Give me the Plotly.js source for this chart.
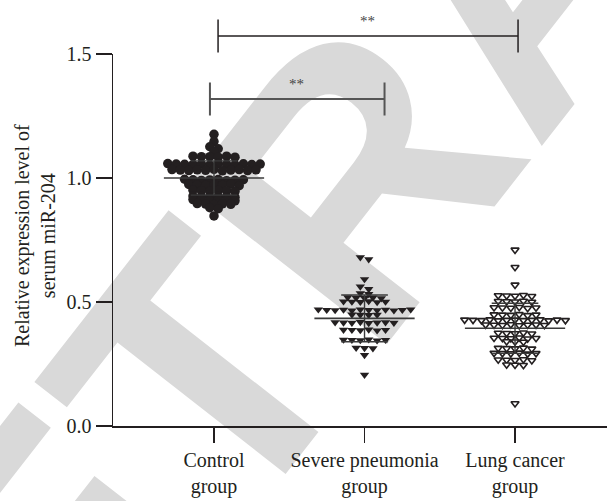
<!DOCTYPE html>
<html>
<head>
<meta charset="utf-8">
<script src="https://cdn.plot.ly/plotly-3.0.1.min.js"></script>
<style>
html,body{margin:0;padding:0;background:#ffffff;overflow:hidden;}
#wrap{position:relative;width:607px;height:501px;}
#wm{position:absolute;left:0;top:0;width:607px;height:501px;z-index:0;}
#chart{position:absolute;left:0;top:0;width:607px;height:501px;z-index:1;}
</style>
</head>
<body>
<div id="wrap">
<svg id="wm" width="607" height="501" xmlns="http://www.w3.org/2000/svg">
  <text x="-84" y="947" transform="rotate(-52 -84 947)" font-family="Liberation Sans, Arial, sans-serif" font-weight="bold" font-size="370" fill="#d9d9d9">RETRACTED</text>
</svg>
<div id="chart"></div>
</div>
<script>
// ---- data ----
const categories = ['Control<br>group', 'Severe pneumonia<br>group', 'Lung cancer<br>group'];

const controlVals = [
  1.176,
  1.147,
  1.126, 1.118,
  1.106,
  1.088, 1.086, 1.086, 1.084, 1.088, 1.084,
  1.058, 1.056, 1.055, 1.054, 1.056, 1.052, 1.058, 1.055, 1.053, 1.057, 1.054, 1.056,
  1.034, 1.032, 1.030, 1.033, 1.031, 1.035, 1.029, 1.032, 1.034, 1.030, 1.033,
  0.995, 0.993, 0.990, 0.992, 0.994, 0.989, 0.991, 0.993,
  0.974, 0.972, 0.970, 0.973, 0.971, 0.975, 0.969,
  0.951, 0.949, 0.947, 0.950, 0.948, 0.946,
  0.927, 0.925, 0.923, 0.926, 0.924, 0.922,
  0.913, 0.911, 0.909, 0.912, 0.910, 0.908,
  0.897, 0.895, 0.893, 0.896, 0.894,
  0.880, 0.876,
  0.847
];

const severeVals = [
  0.680, 0.672,
  0.592,
  0.562, 0.552,
  0.535, 0.532,
  0.519, 0.517, 0.516, 0.518, 0.515,
  0.502, 0.501, 0.500, 0.503, 0.499, 0.501,
  0.470, 0.468, 0.467, 0.469, 0.466, 0.470, 0.468, 0.467, 0.469, 0.466, 0.468, 0.470,
  0.449, 0.448, 0.447, 0.448,
  0.418, 0.417, 0.416, 0.419, 0.415, 0.417, 0.418, 0.416,
  0.388, 0.387, 0.386, 0.389, 0.385, 0.387,
  0.348, 0.347, 0.346, 0.349, 0.345, 0.347,
  0.315, 0.314, 0.313,
  0.286,
  0.206
];

const lungVals = [
  0.710,
  0.640,
  0.569,
  0.526, 0.525, 0.524, 0.527, 0.523,
  0.503, 0.502, 0.501, 0.504, 0.500,
  0.478, 0.477, 0.476, 0.479, 0.475, 0.477,
  0.449, 0.448, 0.447, 0.450, 0.446, 0.448,
  0.428, 0.427, 0.426, 0.429, 0.425, 0.427, 0.428, 0.426, 0.427, 0.429, 0.425, 0.428, 0.426,
  0.408, 0.407, 0.406, 0.409, 0.405, 0.407, 0.408, 0.406,
  0.375, 0.374, 0.373, 0.376, 0.372,
  0.355, 0.354, 0.353, 0.356, 0.352, 0.354,
  0.341, 0.340, 0.339,
  0.314, 0.313, 0.312, 0.315, 0.311,
  0.294, 0.293, 0.292, 0.295, 0.291, 0.293,
  0.267, 0.266, 0.265, 0.268, 0.264,
  0.247, 0.246, 0.245,
  0.091
];

const groupMeans = [1.000, 0.434, 0.394];
const groupSDs   = [0.069, 0.094, 0.101];

const yTickVals = [0, 0.5, 1.0, 1.5];
const yTickText = ['0.0', '0.5', '1.0', '1.5'];

const sigPairs  = [[0, 1], [0, 2]];
const sigLabels = ['**', '**'];

// ---- layout geometry ----
const W = 607, H = 501;
const M = {l: 113, r: 0, t: 54, b: 75};
const xRange = [-0.671, 2.611];
const yRange = [0, 1.5];
const plotW = W - M.l - M.r, plotH = H - M.t - M.b;
const pxPerX = plotW / (xRange[1] - xRange[0]);
const pxPerY = plotH / (yRange[1] - yRange[0]);

// row-based scatter-dot (beeswarm) layout, computed from the values
function swarm(vals, center, D, rowPx) {
  const idx = vals.map((v, i) => i).sort((a, b) => vals[b] - vals[a]);
  const xs = new Array(vals.length);
  let row = [], rowStart = null;
  const flush = () => {
    const n = row.length;
    const order = row.slice().sort((a, b) => a - b);
    order.forEach((i, k) => { xs[i] = center + ((k - (n - 1) / 2) * D) / pxPerX; });
    row = [];
  };
  idx.forEach(i => {
    if (rowStart === null || (rowStart - vals[i]) * pxPerY > rowPx) { flush(); rowStart = vals[i]; }
    row.push(i);
  });
  flush();
  return xs;
}

const ink = '#231f20';
const groups = [controlVals, severeVals, lungVals];
const markerDefs = [
  {symbol: 'circle', size: 9.5, color: ink, line: {width: 0}},
  {symbol: 'triangle-down', size: 8.2, color: ink, line: {width: 0}},
  {symbol: 'triangle-down', size: 7, color: '#ffffff', line: {width: 1.6, color: ink}}
];

const traces = [];
groups.forEach((vals, g) => {
  traces.push({
    type: 'scatter', mode: 'markers',
    x: swarm(vals, g, 8.4, 2.6), y: vals,
    marker: markerDefs[g], cliponaxis: false, hoverinfo: 'y'
  });
});

// mean and SD lines
groupMeans.forEach((m, g) => {
  const s = groupSDs[g];
  const meanHalf = 0.333, sdHalf = 0.155;
  traces.push({type: 'scatter', mode: 'lines', x: [g - meanHalf, g + meanHalf], y: [m, m],
    line: {color: '#3a3a3a', width: 1.6}, hoverinfo: 'skip'});
  traces.push({type: 'scatter', mode: 'lines', x: [g - sdHalf, g + sdHalf, null, g - sdHalf, g + sdHalf, null, g, g],
    y: [m + s, m + s, null, m - s, m - s, null, m - s, m + s],
    line: {color: '#3a3a3a', width: 1.4}, hoverinfo: 'skip'});
});

// significance brackets (positions are layout, in paper space)
const toPaperX = xv => (xv - xRange[0]) / (xRange[1] - xRange[0]);
const pyToPaper = py => (H - M.b - py) / plotH;
const bracketDefs = [
  {pair: 0, x0: -0.027, x1: 1.133, py: 99, half: 16.5, textPx: 296, textPy: 84, color: '#555555', w: 2},
  {pair: 1, x0: 0.027, x1: 2.020, py: 36, half: 16.5, textPx: 367, textPy: 21, color: '#231f20', w: 1.5}
];
const shapes = [], annotations = [];
bracketDefs.forEach(b => {
  const a = sigPairs[b.pair][0] + b.x0;
  const c = b.x1;
  const xa = toPaperX(a), xc = toPaperX(c);
  const ly = {color: b.color, width: b.w};
  shapes.push({type: 'line', xref: 'paper', yref: 'paper', x0: xa, x1: xc, y0: pyToPaper(b.py), y1: pyToPaper(b.py), line: ly});
  shapes.push({type: 'line', xref: 'paper', yref: 'paper', x0: xa, x1: xa, y0: pyToPaper(b.py - b.half), y1: pyToPaper(b.py + b.half), line: ly});
  shapes.push({type: 'line', xref: 'paper', yref: 'paper', x0: xc, x1: xc, y0: pyToPaper(b.py - b.half), y1: pyToPaper(b.py + b.half), line: ly});
  annotations.push({text: sigLabels[b.pair], xref: 'paper', yref: 'paper',
    x: (b.textPx - M.l) / plotW, y: pyToPaper(b.textPy), xanchor: 'center', yanchor: 'middle',
    showarrow: false, font: {size: 15, color: '#444444', family: 'Liberation Serif, serif'}});
});

annotations.push({
  text: 'Relative expression level of<br>serum miR-204', textangle: -90,
  xref: 'paper', yref: 'paper', x: (35 - M.l) / plotW, y: pyToPaper(236),
  xanchor: 'center', yanchor: 'middle', showarrow: false,
  font: {size: 20, color: ink, family: 'Liberation Serif, Times New Roman, serif'}
});

const layout = {
  width: W, height: H, margin: M,
  paper_bgcolor: 'rgba(0,0,0,0)', plot_bgcolor: 'rgba(0,0,0,0)',
  showlegend: false,
  font: {family: 'Liberation Serif, Times New Roman, serif', size: 20, color: ink},
  xaxis: {range: xRange, tickmode: 'array', tickvals: [0, 1, 2], ticktext: categories,
    showline: true, linecolor: ink, linewidth: 1.5, ticks: 'outside', ticklen: 15, tickwidth: 1.5,
    tickcolor: ink, showgrid: false, zeroline: false, tickfont: {size: 20}},
  yaxis: {range: yRange, tickmode: 'array', tickvals: yTickVals, ticktext: yTickText,
    showline: true, linecolor: ink, linewidth: 1.5, ticks: 'outside', ticklen: 16, tickwidth: 1.5,
    tickcolor: ink, showgrid: false, zeroline: false, tickfont: {size: 20}},
  shapes: shapes, annotations: annotations
};

Plotly.newPlot('chart', traces, layout, {displayModeBar: false, staticPlot: true});
</script>
</body>
</html>
